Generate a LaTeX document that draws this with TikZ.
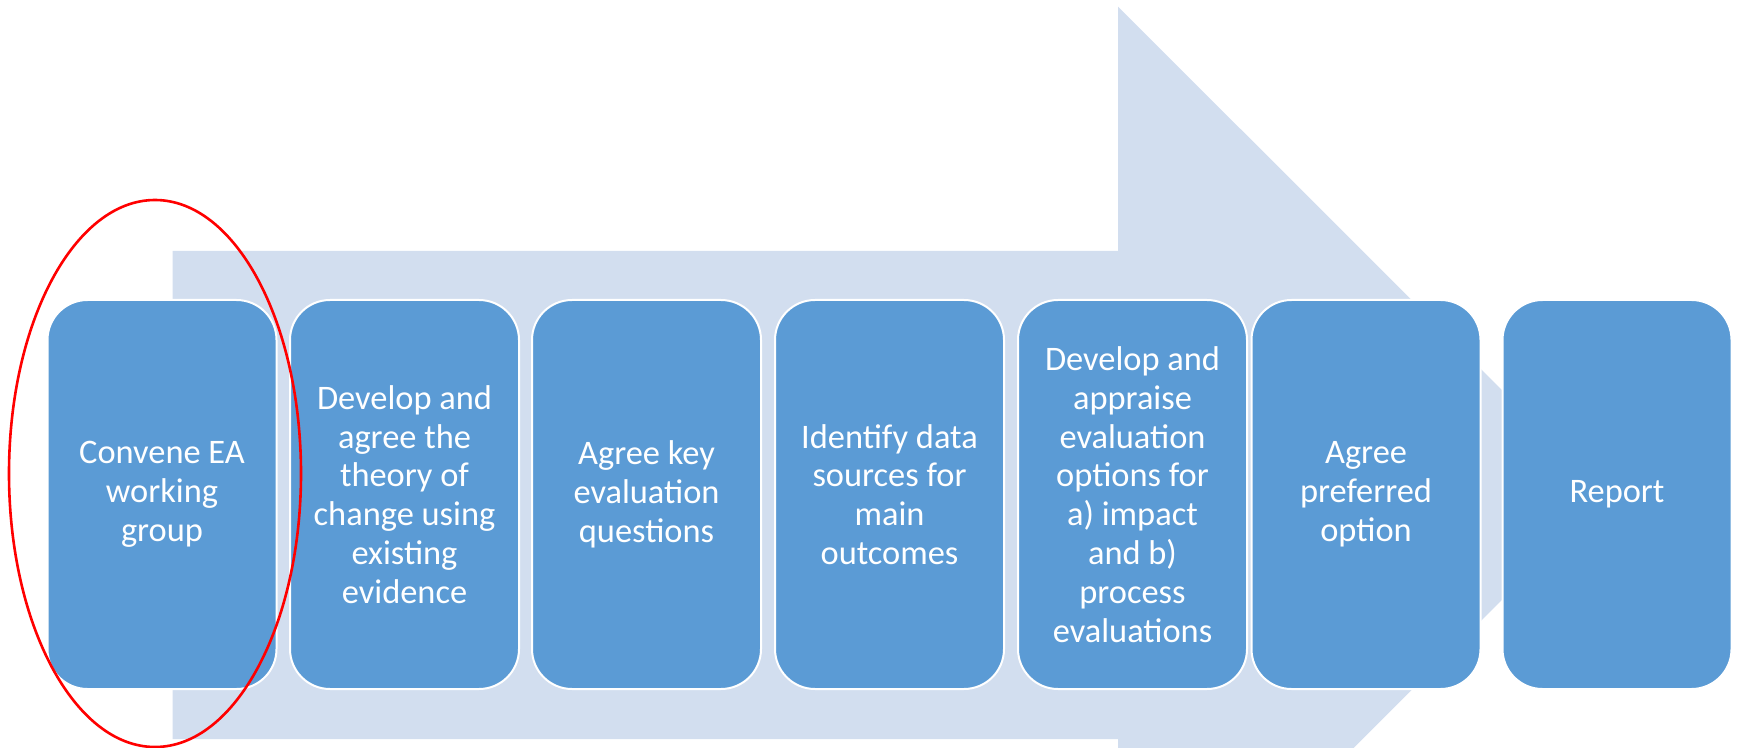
\documentclass[tikz,border=0pt]{standalone}
\usepackage{fontspec}
\setmainfont{Carlito}
\definecolor{stagefill}{HTML}{5B9BD5}
\definecolor{arrowfill}{HTML}{D2DEEF}
\begin{document}
\begin{tikzpicture}[x=0.5pt,y=-0.5pt,
  stagebox/.style={draw=white,line width=1pt,fill=stagefill,rounded corners=20pt,
    minimum width=114.5pt,minimum height=194.5pt,inner sep=0pt,outer sep=0pt,
    align=center,text=white,font=\fontsize{17.2}{19.4}\selectfont}]
  \useasboundingbox (0,0) rectangle (1738,748);
  \clip (0,0) rectangle (1738,748);
  \fill[arrowfill] (172.7,251) -- (1118,251) -- (1118,6.7) -- (1607,495)
    -- (1118,983.3) -- (1118,739) -- (172.7,739) -- cycle;
  \node[stagebox] (conv) at (162,494.5) {Convene EA\\working\\group};
  \node[stagebox] (theory) at (404.5,494.5) {Develop and\\agree the\\theory of\\change using\\existing\\evidence};
  \node[stagebox] (questions) at (646.5,494.5) {Agree key\\evaluation\\questions};
  \node[stagebox] (sources) at (889.5,494.5) {Identify data\\sources for\\main\\outcomes};
  \node[stagebox] (options) at (1132.5,494.5) {Develop and\\appraise\\evaluation\\options for\\a) impact\\and b)\\process\\evaluations};
  \node[stagebox] (preferred) at (1366,494.5) {Agree\\preferred\\option};
  \node[stagebox] (report) at (1617,494.5) {Report};
  \draw[red,line width=1.3pt] (155,473.5) ellipse [x radius=73pt,y radius=136.75pt];
\end{tikzpicture}
\end{document}
